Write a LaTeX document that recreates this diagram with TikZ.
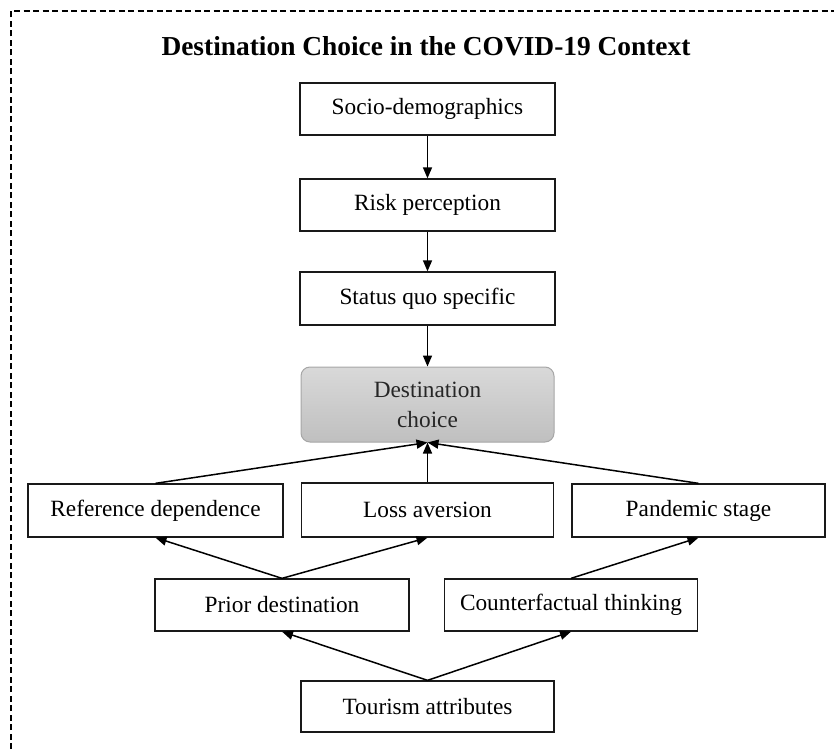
\documentclass[tikz,border=0pt]{standalone}
\usepackage{fontspec}
\setmainfont{Liberation Serif}
\usetikzlibrary{arrows.meta}
\begin{document}
\begin{tikzpicture}[x=1pt,y=-1pt,
  box/.style={draw=black!90, line width=1.3pt, fill=white, inner sep=0pt, minimum height=52pt,
    font=\fontsize{23.3}{28}\selectfont, text=black},
  destbox/.style={draw=gray!70, line width=1pt, rounded corners=9pt, top color=gray!30, bottom color=gray!50,
    inner sep=0pt, minimum width=253pt, minimum height=75pt, align=center,
    font=\fontsize{23.3}{30}\selectfont, text=black!85},
  arr/.style={line width=1.5pt, draw=black, -{Triangle[length=11pt,width=9pt]}},
  border/.style={line width=1.1pt, dash pattern=on 6pt off 3.5pt, draw=black}]
\useasboundingbox (0,0) rectangle (834,749);
\draw[border] (11,749) -- (11,11) -- (834,11);

\node (title) at (426,46) {\fontsize{27.4}{32}\selectfont\bfseries Destination Choice in the COVID-19 Context};

\node[box, minimum width=255pt] (socio) at (427.5,109) {Socio-demographics};
\node[box, minimum width=255pt] (risk) at (427.5,205) {Risk perception};
\node[box, minimum width=255pt, minimum height=53pt] (status) at (427.5,298.5) {Status quo specific};
\node[destbox] (dest) at (427.5,404.5) {Destination\\choice};

\node[box, minimum width=255pt, minimum height=53pt] (rd) at (155.5,510.5) {Reference dependence};
\node[box, minimum width=252pt, minimum height=54pt] (la) at (427.5,510) {Loss aversion};
\node[box, minimum width=253pt, minimum height=53pt] (ps) at (698.5,510.5) {Pandemic stage};

\node[box, minimum width=254pt] (pd) at (282,605) {Prior destination};
\node[box, minimum width=253pt] (cf) at (571,605) {Counterfactual thinking};

\node[box, minimum width=253pt, minimum height=51pt] (ta) at (427.5,706.5) {Tourism attributes};

\draw[arr] (socio.south) -- (risk.north);
\draw[arr] (risk.south) -- (status.north);
\draw[arr] (status.south) -- (dest.north);

\draw[arr] (rd.north) -- (dest.south);
\draw[arr] (la.north) -- (dest.south);
\draw[arr] (ps.north) -- (dest.south);

\draw[arr] (pd.north) -- (rd.south);
\draw[arr] (pd.north) -- (la.south);
\draw[arr] (cf.north) -- (ps.south);

\draw[arr] (ta.north) -- (pd.south);
\draw[arr] (ta.north) -- (cf.south);
\end{tikzpicture}
\end{document}
